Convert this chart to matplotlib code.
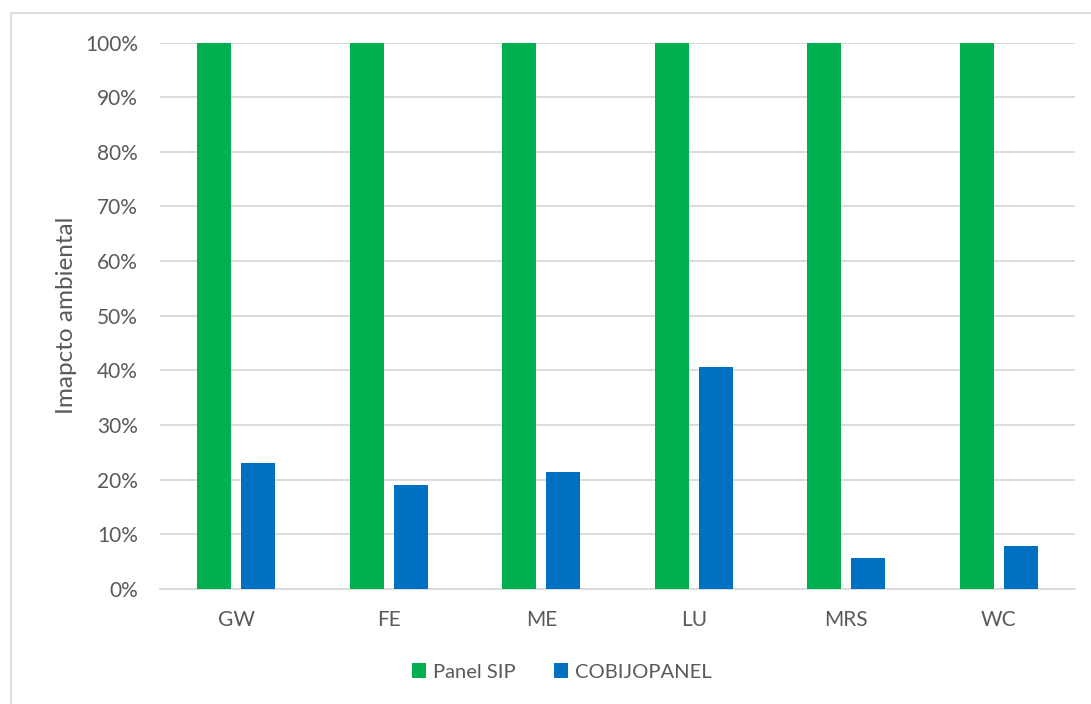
import matplotlib
matplotlib.use("Agg")
import matplotlib.pyplot as plt
import numpy as np
from matplotlib.patches import Rectangle
from matplotlib.ticker import FuncFormatter, MultipleLocator

categories = ["GW", "FE", "ME", "LU", "MRS", "WC"]
panel_sip = [100, 100, 100, 100, 100, 100]
cobijopanel = [23.0, 19.0, 21.4, 40.6, 5.7, 7.9]

GREEN = "#00b050"
BLUE = "#0070c0"
TEXT = "#595959"
GRID = "#d9d9d9"

plt.rcParams["font.family"] = ["Lato", "DejaVu Sans"]

fig = plt.figure(figsize=(10.91, 7.04), dpi=100)
ax = fig.add_axes([0.1467, 0.1634, 0.8386, 0.7762])

x = np.arange(len(categories))
width = 0.223
offset = 0.144
ax.bar(x - offset, panel_sip, width, color=GREEN, label="Panel SIP", zorder=2)
ax.bar(x + offset, cobijopanel, width, color=BLUE, label="COBIJOPANEL", zorder=2)

ax.set_xlim(-0.5, len(categories) - 0.5)
ax.set_ylim(0, 100)
ax.yaxis.set_major_locator(MultipleLocator(10))
ax.yaxis.set_major_formatter(FuncFormatter(lambda v, _: f"{v:.0f}%"))
ax.set_xticks(x)
ax.set_xticklabels(categories)
ax.tick_params(axis="both", length=0, labelsize=15, colors=TEXT)
ax.tick_params(axis="y", pad=16)
ax.tick_params(axis="x", pad=15)

ax.grid(axis="y", color=GRID, linewidth=1.3, zorder=0)
for side in ["top", "right", "left"]:
    ax.spines[side].set_visible(False)
ax.spines["bottom"].set_color(GRID)
ax.spines["bottom"].set_linewidth(1.3)
ax.spines["bottom"].set_zorder(1)

ax.set_ylabel("Imapcto ambiental", fontsize=17.5, color=TEXT)
ax.yaxis.set_label_coords(-0.091, 0.5)

fig.legend(*ax.get_legend_handles_labels(), loc="center",
           bbox_to_anchor=(0.515, 1 - 672 / 704), ncol=2, frameon=False,
           fontsize=14.5, labelcolor=TEXT, handlelength=0.7, handleheight=0.7,
           handletextpad=0.35, columnspacing=1.9)

# outer chart border
fig.patches.append(Rectangle((11 / 1091, -0.1), 1.2, 1 - 13 / 704 + 0.1,
                             transform=fig.transFigure, fill=False,
                             edgecolor=GRID, linewidth=1.3))

fig.savefig("out.png", dpi=100, facecolor="white")
